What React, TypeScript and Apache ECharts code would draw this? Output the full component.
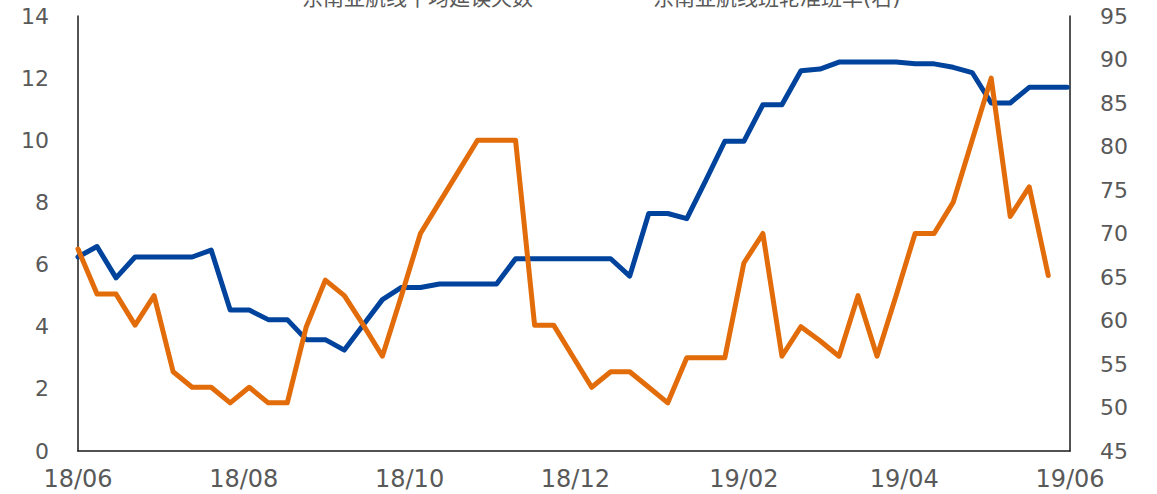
import React, { useEffect, useRef } from "react";
import * as echarts from "echarts";

const weekDates: string[] = [
  "2018-06-01", "2018-06-08", "2018-06-15", "2018-06-22", "2018-06-29",
  "2018-07-06", "2018-07-13", "2018-07-20", "2018-07-27",
  "2018-08-03", "2018-08-10", "2018-08-17", "2018-08-24", "2018-08-31",
  "2018-09-07", "2018-09-14", "2018-09-21", "2018-09-28",
  "2018-10-05", "2018-10-12", "2018-10-19", "2018-10-26",
  "2018-11-02", "2018-11-09", "2018-11-16", "2018-11-23", "2018-11-30",
  "2018-12-07", "2018-12-14", "2018-12-21", "2018-12-28",
  "2019-01-04", "2019-01-11", "2019-01-18", "2019-01-25",
  "2019-02-01", "2019-02-08", "2019-02-15", "2019-02-22",
  "2019-03-01", "2019-03-08", "2019-03-15", "2019-03-22", "2019-03-29",
  "2019-04-05", "2019-04-12", "2019-04-19", "2019-04-26",
  "2019-05-03", "2019-05-10", "2019-05-17", "2019-05-24", "2019-05-31",
];

const tickDates: string[] = [
  "2018-06-01", "2018-08-01", "2018-10-01", "2018-12-01",
  "2019-02-01", "2019-04-01", "2019-06-01",
];

const seriesNames: string[] = ["东南亚航线平均延误天数", "东南亚航线班轮准班率(右)"];

const daysValues: (number | null)[] = [
  6.5, 5.05, 5.05, 4.05, 5.0, 2.55, 2.05, 2.05, 1.55, 2.05, 1.55, 1.55, 4.0,
  5.5, 5.0, 4.05, 3.05, 5.0, 7.0, 8.0, 9.0, 10.0, 10.0, 10.0, 4.05, 4.05,
  3.05, 2.05, 2.55, 2.55, 2.05, 1.55, 3.0, 3.0, 3.0, 6.05, 7.0, 3.05, 4.0,
  3.55, 3.05, 5.0, 3.05, 5.0, 7.0, 7.0, 8.0, 10.0, 12.0, 7.55, 8.5, 5.65, null,
];

const rateValues: number[] = [
  67.3, 68.5, 64.9, 67.3, 67.3, 67.3, 67.3, 68.1, 61.2, 61.2, 60.1, 60.1,
  57.8, 57.8, 56.6, 59.5, 62.4, 63.8, 63.8, 64.2, 64.2, 64.2, 64.2, 67.1,
  67.1, 67.1, 67.1, 67.1, 67.1, 65.1, 72.3, 72.3, 71.7, 76.1, 80.6, 80.6,
  84.8, 84.8, 88.7, 88.9, 89.7, 89.7, 89.7, 89.7, 89.5, 89.5, 89.1, 88.5,
  85.0, 85.0, 86.8, 86.8, 86.8,
];

const ORANGE = "#E36C0A";
const BLUE = "#00439C";
const LABEL = "#595959";
const FONT = "DejaVu Sans, Noto Sans CJK SC, sans-serif";

export default function App() {
  const ref = useRef<HTMLDivElement>(null);

  useEffect(() => {
    document.body.style.margin = "0";
    if (!ref.current) return;
    const chart = echarts.init(ref.current, null, { renderer: "svg" });
    const toTs = (s: string) => new Date(s + "T00:00:00").getTime();
    const pad = (n: number) => (n < 10 ? "0" + n : "" + n);

    chart.setOption({
      animation: false,
      backgroundColor: "#ffffff",
      textStyle: { fontFamily: FONT },
      legend: {
        top: -18,
        left: 252,
        itemWidth: 40,
        itemHeight: 4,
        itemGap: 75,
        icon: "rect",
        data: [seriesNames[0], seriesNames[1]],
        textStyle: { color: LABEL, fontSize: 21, fontFamily: FONT },
      },
      grid: { left: 78, right: 87, top: 16, bottom: 43, containLabel: false },
      xAxis: {
        type: "value",
        min: toTs(tickDates[0]),
        max: toTs(tickDates[tickDates.length - 1]),
        axisLine: { show: true, onZero: false, lineStyle: { color: "#1a1a1a", width: 1.5 } },
        axisTick: { show: false },
        splitLine: { show: false },
        axisLabel: {
          customValues: tickDates.map(toTs),
          showMinLabel: true,
          showMaxLabel: true,
          hideOverlap: false,
          color: LABEL,
          fontSize: 24,
          fontFamily: FONT,
          margin: 16,
          formatter: (v: number) => {
            const d = new Date(v);
            return pad(d.getFullYear() % 100) + "/" + pad(d.getMonth() + 1);
          },
        },
      },
      yAxis: [
        {
          type: "value",
          min: 0,
          max: 14,
          interval: 2,
          axisLine: { show: true, lineStyle: { color: "#1a1a1a", width: 1.5 } },
          axisTick: { show: false },
          splitLine: { show: false },
          axisLabel: { color: LABEL, fontSize: 22, fontFamily: FONT, margin: 29 },
        },
        {
          type: "value",
          min: 45,
          max: 95,
          interval: 5,
          position: "right",
          axisLine: { show: true, lineStyle: { color: "#1a1a1a", width: 1.5 } },
          axisTick: { show: false },
          splitLine: { show: false },
          axisLabel: { color: LABEL, fontSize: 22, fontFamily: FONT, margin: 30 },
        },
      ],
      series: [
        {
          name: seriesNames[1],
          type: "line",
          yAxisIndex: 1,
          data: weekDates.map((d, i) => [toTs(d), rateValues[i]]),
          showSymbol: false,
          symbol: "none",
          color: BLUE,
          lineStyle: { color: BLUE, width: 5, join: "round", cap: "round" },
        },
        {
          name: seriesNames[0],
          type: "line",
          yAxisIndex: 0,
          data: weekDates.map((d, i) => [toTs(d), daysValues[i]]),
          showSymbol: false,
          symbol: "none",
          connectNulls: false,
          color: ORANGE,
          lineStyle: { color: ORANGE, width: 5, join: "round", cap: "round" },
        },
      ],
    });

    return () => chart.dispose();
  }, []);

  return <div ref={ref} style={{ width: 1157, height: 494 }} />;
}
